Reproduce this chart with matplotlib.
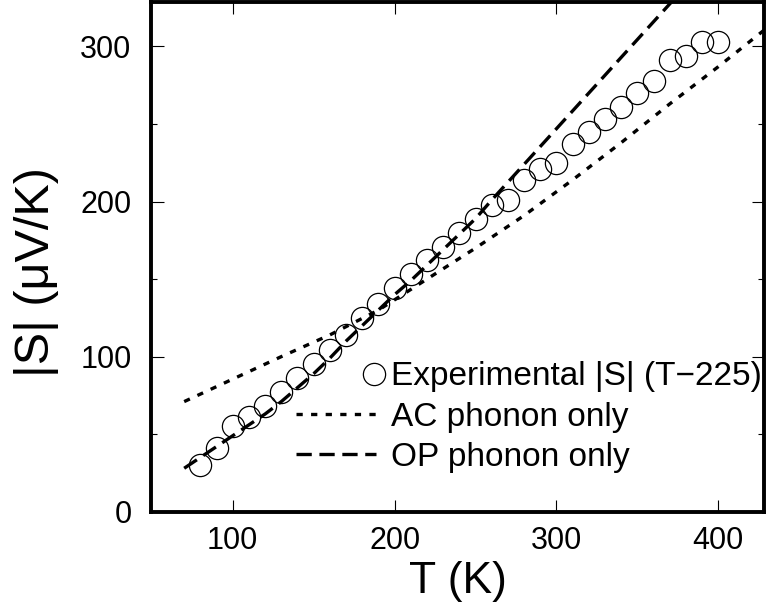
import matplotlib
matplotlib.use('Agg')
import matplotlib.pyplot as plt
from matplotlib.legend_handler import HandlerBase
from matplotlib.lines import Line2D

plt.rcParams['font.family'] = ['Liberation Sans', 'DejaVu Sans']
plt.rcParams['lines.scale_dashes'] = False

# experimental |S| vs T, sample T-225
T_exp = [80, 90, 100, 110, 120, 130, 140, 150, 160, 170, 180, 190, 200,
         210, 220, 230, 240, 250, 260, 270, 280, 290, 300, 310, 320, 330,
         340, 350, 360, 370, 380, 390, 400]
S_exp = [30, 41, 55, 61, 68, 77, 86, 95, 104, 114, 125, 134, 144,
         153, 162, 171, 180, 189, 198, 201, 214, 221, 225, 237, 245, 253,
         261, 270, 278, 291, 294, 303, 303]

# model: acoustic phonon scattering only
T_ac = [70, 100, 130, 160, 190, 220, 250, 280, 310, 340, 370, 400, 430]
S_ac = [71, 85.5, 100, 114, 130, 150, 170, 191, 214, 238, 263, 287, 312]

# model: optical phonon scattering only
T_op = [70, 80, 90, 100, 110, 120, 130, 140, 150, 160, 170, 180, 190, 200,
        210, 220, 230, 240, 250, 260, 270, 280, 290, 300, 310, 320, 330,
        340, 350, 360, 370, 380]
S_op = [28, 35, 42, 49, 56, 63, 71, 80, 89, 99, 110, 120, 130, 140,
        149, 159, 169, 179, 189, 201, 212.5, 224, 235.5, 247, 258.5, 270,
        281.5, 293, 304.5, 316, 327.5, 339]

MS = 16


class EndMarkerHandler(HandlerBase):
    # single open circle sitting at the right end of the handle area
    def create_artists(self, legend, orig_handle, xdescent, ydescent,
                       width, height, fontsize, trans):
        x = -xdescent + width - 1.5
        y = (height - ydescent) / 2
        m = Line2D([x], [y], linestyle='none', marker='o', ms=MS,
                   mfc='none', mec='black', mew=0.9)
        m.set_transform(trans)
        return [m]


fig = plt.figure(figsize=(7.67, 6.11), dpi=100)
ax = fig.add_axes([151 / 767, 1 - 511.7 / 611, (764.5 - 151) / 767, 510.2 / 611])

exp_line, = ax.plot(T_exp, S_exp, linestyle='none', marker='o', ms=MS,
                    mfc='none', mec='black', mew=0.9,
                    label='Experimental |S| (T\u2212225)')
ax.plot(T_ac, S_ac, color='black', lw=2.4, dashes=(4.5, 6),
        label='AC phonon only')
ax.plot(T_op, S_op, color='black', lw=2.4, dashes=(11, 5.5),
        label='OP phonon only')

ax.set_xlim(49.5, 428.5)
ax.set_ylim(0, 329)
ax.set_xticks([100, 200, 300, 400])
ax.set_yticks([0, 100, 200, 300])
ax.set_yticks([50, 150, 250], minor=True)

ax.tick_params(which='both', direction='in', top=True, right=True,
               width=0.8, labelsize=22)
ax.tick_params(which='major', length=9)
ax.tick_params(which='minor', length=4.5)
ax.tick_params(axis='x', pad=10)
ax.tick_params(axis='y', pad=14)
for sp in ax.spines.values():
    sp.set_linewidth(2.8)

ax.set_xlabel('T (K)', fontsize=32)
ax.set_ylabel('|S| (\u03bcV/K)', fontsize=35)
ax.xaxis.set_label_coords(0.5, -0.097)
ax.yaxis.set_label_coords(-0.15, 0.47)

ax.legend(loc='upper left', bbox_to_anchor=(0.236, 0.295), frameon=False,
          fontsize=24, borderpad=0, borderaxespad=0, handlelength=2.4,
          handletextpad=0.45, labelspacing=0.28,
          handler_map={exp_line: EndMarkerHandler()})

fig.savefig('out.png', dpi=100, facecolor='white')
